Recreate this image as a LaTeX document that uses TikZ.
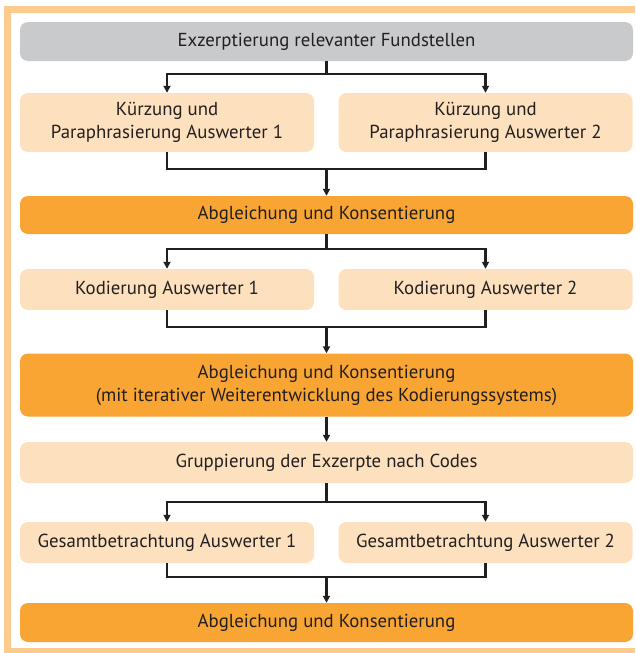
\documentclass[tikz,border=0pt]{standalone}
\usepackage{fontspec}
\setmainfont{PT Sans}
\usetikzlibrary{arrows.meta,positioning,calc}
\definecolor{frame}{HTML}{FDCB8E}
\definecolor{greybox}{HTML}{C9CACC}
\definecolor{lightbox}{HTML}{FDE1BE}
\definecolor{darkbox}{HTML}{F8A533}
\definecolor{ink}{HTML}{231F20}

\begin{document}
\begin{tikzpicture}[x=1pt, y=-1pt, >={Triangle[length=7pt,width=7pt]},
                    every node/.style={font=\fontsize{18.8}{23}\selectfont, text=ink},
                    box/.style={rounded corners=8pt, align=center, inner sep=0pt},
                    wide/.style={box, minimum width=613pt},
                    half/.style={box, minimum width=294pt},
                    conn/.style={line width=2.4pt, draw=ink},
                    arr/.style={conn, ->}]
  \useasboundingbox (0,0) rectangle (635,653);
  % outer frame, open on the right
  \draw[frame, line width=7pt] (635,9.5) -- (7.5,9.5) -- (7.5,651) -- (635,651);
  % boxes, top to bottom
  \node[wide, fill=greybox, minimum height=39pt] (exz) at (326.5,41.5)
       {Exzerptierung relevanter Fundstellen};
  \node[half, fill=lightbox, minimum height=59pt] (kurz1) at (167,122.5)
       {Kürzung und\\ Paraphrasierung Auswerter 1};
  \node[half, fill=lightbox, minimum height=59pt] (kurz2) at (485.5,122.5)
       {Kürzung und\\ Paraphrasierung Auswerter 2};
  \node[wide, fill=darkbox, minimum height=38pt] (abgl1) at (326.5,215)
       {Abgleichung und Konsentierung};
  \node[half, fill=lightbox, minimum height=41pt] (kod1) at (167,289.5)
       {Kodierung Auswerter 1};
  \node[half, fill=lightbox, minimum height=41pt] (kod2) at (485.5,289.5)
       {Kodierung Auswerter 2};
  \node[wide, fill=darkbox, minimum height=63pt] (abgl2) at (326.5,385)
       {Abgleichung und Konsentierung\\ (mit iterativer Weiterentwicklung des Kodierungssystems)};
  \node[wide, fill=lightbox, minimum height=41pt] (grup) at (326.5,462.5)
       {Gruppierung der Exzerpte nach Codes};
  \node[half, fill=lightbox, minimum height=41pt] (ges1) at (167,542.5)
       {Gesamtbetrachtung Auswerter 1};
  \node[half, fill=lightbox, minimum height=41pt] (ges2) at (485.5,542.5)
       {Gesamtbetrachtung Auswerter 2};
  \node[wide, fill=darkbox, minimum height=39pt] (abgl3) at (326.5,622.5)
       {Abgleichung und Konsentierung};
  % junctions
  \coordinate (split1) at (326.5,74);
  \coordinate (join1)  at (326.5,169);
  \coordinate (split2) at (326.5,249);
  \coordinate (join2)  at (326.5,327);
  \coordinate (split3) at (326.5,502);
  \coordinate (join3)  at (326.5,577);
  % connectors
  \draw[conn] (exz.south) -- (split1);
  \draw[arr] (split1) -| (kurz1.north);
  \draw[arr] (split1) -| (kurz2.north);
  \draw[conn] (kurz1.south) |- (join1) -| (kurz2.south);
  \draw[arr] (join1) -- (abgl1.north);
  \draw[conn] (abgl1.south) -- (split2);
  \draw[arr] (split2) -| (kod1.north);
  \draw[arr] (split2) -| (kod2.north);
  \draw[conn] (kod1.south) |- (join2) -| (kod2.south);
  \draw[arr] (join2) -- (abgl2.north);
  \draw[arr] (abgl2.south) -- (grup.north);
  \draw[conn] (grup.south) -- (split3);
  \draw[arr] (split3) -| (ges1.north);
  \draw[arr] (split3) -| (ges2.north);
  \draw[conn] (ges1.south) |- (join3) -| (ges2.south);
  \draw[arr] (join3) -- (abgl3.north);
\end{tikzpicture}
\end{document}
